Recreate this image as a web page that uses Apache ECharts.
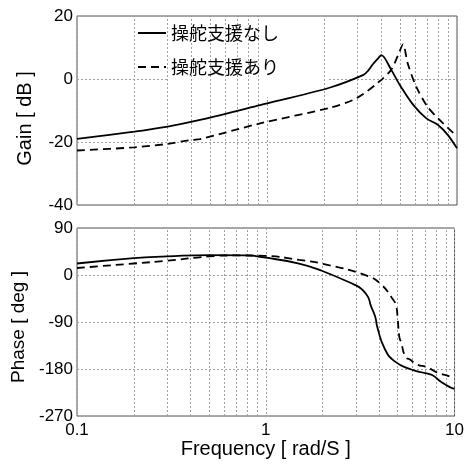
<!DOCTYPE html>
<html>
<head>
<meta charset="utf-8">
<script src="https://cdn.jsdelivr.net/npm/echarts@6/dist/echarts.min.js"></script>
<style>
  html, body { margin: 0; padding: 0; background: #fff; }
  #chart { width: 467px; height: 470px; }
</style>
</head>
<body>
<div id="chart"></div>
<script>
// 系列名
const seriesNames = ['操舵支援なし', '操舵支援あり'];

// ゲイン [dB]  (周波数, 値)
const gainOffFreq = [0.1, 0.2, 0.3, 0.444, 0.919, 2.15, 3.22, 3.4, 3.6, 3.8, 4.0, 4.51, 5.0, 5.9, 6.9, 7.95, 8.96, 10];
const gainOff = [-19.0, -16.7, -15.1, -13.0, -8.3, -2.7, 1.3, 2.6, 4.6, 6.2, 7.6, 2.9, -1.9, -8.3, -12.5, -14.6, -17.8, -22];
const gainOnFreq = [0.1, 0.2, 0.3, 0.393, 0.444, 0.919, 2.15, 2.96, 3.9, 4.5, 4.9, 5.2, 5.5, 6.1, 7.0, 8.1, 9.7];
const gainOn = [-22.7, -21.7, -20.6, -19.4, -19.1, -14.1, -9.1, -6.1, -0.8, 2.9, 7.6, 11.0, 5.0, -2.4, -8.8, -13.0, -17.5];

// 位相 [deg]
const phaseOffFreq = [0.1, 0.2, 0.3, 0.5, 0.8, 0.978, 1.5, 1.98, 2.96, 3.22, 3.48, 3.6, 3.8, 3.9, 4.25, 4.8, 5.9, 7.0, 7.65, 8.5, 9.6, 10];
const phaseOff = [22, 32.4, 35.5, 38.2, 37.4, 33.6, 22, 8.2, -19, -27, -42, -58.6, -80, -100, -140, -165, -181, -188, -192, -205, -216, -218];
const phaseOnFreq = [0.1, 0.2, 0.3, 0.5, 0.69, 0.978, 1.5, 2.0, 3.48, 4.1, 4.64, 4.9, 5.0, 5.1, 5.2, 5.5, 5.8, 6.3, 7.2, 8.0, 9.4, 9.7];
const phaseOn = [13.4, 22, 27.3, 35.5, 37.4, 36.8, 29, 21.5, -2, -18.7, -43, -58.6, -85, -119, -128, -157, -162, -171, -177, -186, -194, -196];

// 補助目盛（グリッド線）
const minorFreqs = [0.2, 0.3, 0.4, 0.5, 0.6, 0.7, 0.8, 0.9, 2, 3, 4, 5, 6, 7, 8, 9];

const FONT = '"Liberation Sans", Arial, sans-serif';
const GRID_LINE = { color: '#a0a0a0', width: 1, type: [2, 2] };

const zip = (xs, ys) => xs.map((x, i) => [x, ys[i]]);

const chart = echarts.init(document.getElementById('chart'));

function xAxisOpt(gridIndex, withLabel) {
  return {
    type: 'log',
    logBase: 10,
    gridIndex,
    min: 0.1,
    max: 10,
    axisLine: { show: false },
    axisTick: { show: false },
    splitLine: { show: true, lineStyle: GRID_LINE },
    axisLabel: {
      show: withLabel,
      color: '#000',
      fontSize: 17,
      fontFamily: FONT,
      margin: 6
    },
    name: withLabel ? 'Frequency [ rad/S ]' : '',
    nameLocation: 'middle',
    nameGap: 22,
    nameTextStyle: { color: '#000', fontSize: 20, fontFamily: FONT }
  };
}

function yAxisOpt(gridIndex, name, min, max, interval, size, pad) {
  return {
    type: 'value',
    gridIndex,
    min,
    max,
    interval,
    axisLine: { show: false },
    axisTick: { show: false },
    splitLine: { show: true, lineStyle: GRID_LINE },
    axisLabel: { color: '#000', fontSize: 17, fontFamily: FONT, margin: 4 },
    name,
    nameLocation: 'middle',
    nameGap: 42,
    nameTextStyle: { color: '#000', fontSize: size, fontFamily: FONT, padding: pad }
  };
}

function lineSeries(name, data, xi, dashed, smooth) {
  return {
    name,
    type: 'line',
    xAxisIndex: xi,
    yAxisIndex: xi,
    data,
    symbol: 'none',
    showSymbol: false,
    smooth,
    z: 5,
    lineStyle: { color: '#000', width: 1.8, type: dashed ? [8, 5] : 'solid' },
    itemStyle: { color: '#000' }
  };
}

// 補助グリッド線用のダミー系列
function minorGridSeries(xi) {
  return {
    type: 'line',
    xAxisIndex: xi,
    yAxisIndex: xi,
    data: [],
    silent: true,
    z: 1,
    markLine: {
      silent: true,
      symbol: ['none', 'none'],
      label: { show: false },
      lineStyle: GRID_LINE,
      animation: false,
      data: minorFreqs.map((v) => ({ xAxis: v }))
    }
  };
}

const option = {
  animation: false,
  backgroundColor: '#fff',
  grid: [
    { left: 77, right: 10, top: 16, height: 189, show: true, borderColor: '#555', borderWidth: 1, backgroundColor: 'transparent' },
    { left: 77, right: 10, top: 228, height: 188, show: true, borderColor: '#555', borderWidth: 1, backgroundColor: 'transparent' }
  ],
  // 凡例の下地（グリッド線を隠す）
  graphic: [
    {
      type: 'rect',
      z: 3,
      silent: true,
      shape: { x: 167, y: 17, width: 160, height: 80 },
      style: { fill: '#fff' }
    }
  ],
  legend: {
    data: seriesNames,
    orient: 'vertical',
    left: 137,
    top: 23,
    padding: 0,
    z: 6,
    itemWidth: 28,
    itemHeight: 14,
    itemGap: 14,
    itemStyle: { opacity: 0 },
    textStyle: { color: '#000', fontSize: 18, lineHeight: 20, fontFamily: '"Noto Sans CJK JP", sans-serif' }
  },
  xAxis: [xAxisOpt(0, false), xAxisOpt(1, true)],
  yAxis: [
    yAxisOpt(0, 'Gain [ dB ]', -40, 20, 20, 20, [0, 16, 0, 0]),
    yAxisOpt(1, 'Phase [ deg ]', -270, 90, 90, 19, [0, 10, 0, 0])
  ],
  series: [
    minorGridSeries(0),
    minorGridSeries(1),
    lineSeries(seriesNames[0], zip(gainOffFreq, gainOff), 0, false, 0.3),
    lineSeries(seriesNames[1], zip(gainOnFreq, gainOn), 0, true, 0.3),
    lineSeries(seriesNames[0], zip(phaseOffFreq, phaseOff), 1, false, 0.5),
    lineSeries(seriesNames[1], zip(phaseOnFreq, phaseOn), 1, true, 0.5)
  ]
};

chart.setOption(option);
</script>
</body>
</html>
